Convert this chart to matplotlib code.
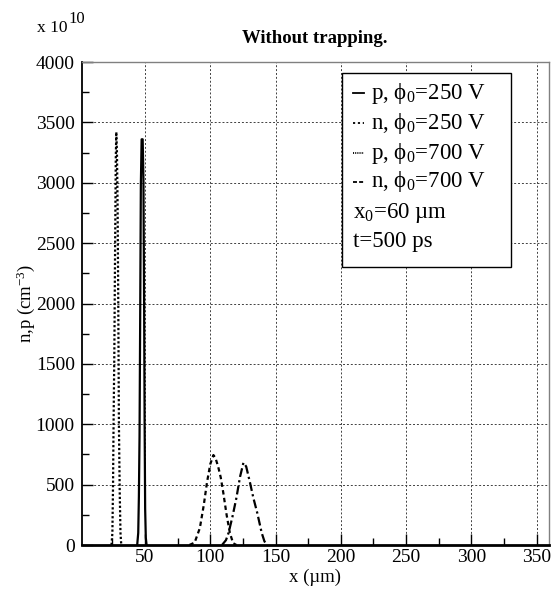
import matplotlib
matplotlib.use("Agg")
import matplotlib.pyplot as plt
from matplotlib.patches import Rectangle
from matplotlib.lines import Line2D
from matplotlib.ticker import MultipleLocator

plt.rcParams['font.family'] = ['Liberation Serif', 'DejaVu Serif']
plt.rcParams['mathtext.fontset'] = 'custom'
plt.rcParams['mathtext.rm'] = 'Liberation Serif'
plt.rcParams['mathtext.it'] = 'Liberation Serif:italic'

# p, phi0=250 V (solid)
x_p250 = [44.0, 44.8, 45.3, 45.8, 46.3, 46.8, 47.4, 48.2, 48.8, 49.3, 49.7, 50.1, 50.6, 51.2]
y_p250 = [0, 100, 400, 900, 1900, 2980, 3360, 3360, 3020, 2000, 1000, 300, 60, 0]
# n, phi0=250 V
x_n250 = [84, 88, 92, 95, 97.5, 100, 102.4, 104, 106, 108, 110, 112.5, 115, 117.5, 120]
y_n250 = [0, 20, 140, 330, 520, 670, 745, 720, 650, 560, 430, 250, 100, 15, 0]
# p, phi0=700 V (dotted)
x_p700 = [24.3, 25.0, 25.5, 25.9, 26.5, 27.1, 27.6, 28.0, 28.5, 29.0, 29.5, 30.0, 30.6, 31.2, 31.8]
y_p700 = [0, 100, 500, 1000, 1600, 2500, 3200, 3420, 3250, 2800, 2000, 1000, 450, 100, 0]
# n, phi0=700 V
x_n700 = [109, 112, 114, 117, 120, 122.8, 125.4, 127.5, 130.5, 133, 136, 139.4, 141.5, 143.5]
y_n700 = [0, 40, 100, 235, 390, 565, 682, 650, 513, 390, 265, 100, 30, 0]

labels = [r'p, $\mathrm{\phi_0}$=250 V', r'n, $\mathrm{\phi_0}$=250 V',
          r'p, $\mathrm{\phi_0}$=700 V', r'n, $\mathrm{\phi_0}$=700 V']
extra_text = [r'x$_0$=60 µm', 't=500 ps']
xticks = [50, 100, 150, 200, 250, 300, 350]
yticks = [0, 500, 1000, 1500, 2000, 2500, 3000, 3500, 4000]

styles = ['-', (0, (2, 1.5)), (0, (1, 1)), (0, (4, 1.5, 1, 1.5))]
legend_styles = ['-', (0, (1.2, 1.5)), (0, (0.6, 0.6)), (0, (2.2, 1.2))]

W, H = 551.0, 589.0
def fx(px):
    return px / W
def fy(py):
    return 1 - py / H

fig = plt.figure(figsize=(5.51, 5.89), dpi=100)
ax = fig.add_axes([0.1483, 0.0747, 0.8481, 0.8200])

series = [(x_p250, y_p250), (x_n250, y_n250), (x_p700, y_p700), (x_n700, y_n700)]
for (xs, ys), ls in zip(series, styles):
    ax.plot(xs, ys, color='black', linestyle=ls, linewidth=1.6)

ax.set_xlim(1.5, 359.5)
ax.set_ylim(0, 4000)
ax.set_xticks(xticks)
ax.set_yticks(yticks)
ax.xaxis.set_minor_locator(MultipleLocator(25))
ax.yaxis.set_minor_locator(MultipleLocator(250))
ax.tick_params(which='both', direction='in', top=False, right=False, labelsize=14)
ax.tick_params(axis='x', which='major', pad=3)
ax.tick_params(axis='y', which='major', pad=5)
ax.tick_params(which='major', length=8, width=1)
ax.tick_params(which='minor', length=5, width=1)
ax.grid(True, which='major', color='0.25', linestyle=(0, (2, 2)), linewidth=0.7)

for s in ['top', 'right']:
    ax.spines[s].set_color('0.5')
    ax.spines[s].set_linewidth(1.0)
ax.spines['bottom'].set_linewidth(2.0)
ax.spines['left'].set_linewidth(1.3)

fig.text(fx(315), fy(577), 'x (µm)', ha='center', va='center', fontsize=13.5)
fig.text(fx(26), fy(303), r'n,p (cm$^{\mathrm{-3}}$)', ha='center', va='center',
         rotation=90, fontsize=13.5)
fig.text(0.5717, 0.935, 'Without trapping.', ha='center', va='center',
         fontsize=13.5, fontweight='bold')
fig.text(fx(37), fy(28), 'x 10', ha='left', va='center', fontsize=12.5)
fig.text(fx(68), fy(19), '10', ha='left', va='center', fontsize=12)

# legend box (manual, in figure pixel coordinates -> figure fraction)
fig.patches.append(Rectangle((fx(341.7), fy(267)), fx(511) - fx(341.7), fy(73.3) - fy(267),
                             transform=fig.transFigure, facecolor='white',
                             edgecolor='black', linewidth=1.0, zorder=5))
rows = [93, 123, 153, 182]
for ry, ls, lab in zip(rows, legend_styles, labels):
    fig.lines.append(Line2D([fx(353), fx(364)], [fy(ry), fy(ry)], transform=fig.transFigure,
                            color='black', linestyle=ls, linewidth=1.3, zorder=6))
    fig.text(fx(371), fy(ry), lab, ha='left', va='center', fontsize=16.5, zorder=7)
for ry, t in zip([213, 242], extra_text):
    fig.text(fx(353), fy(ry), t, ha='left', va='center', fontsize=16.5, zorder=7)

fig.savefig('out.png', dpi=100)
